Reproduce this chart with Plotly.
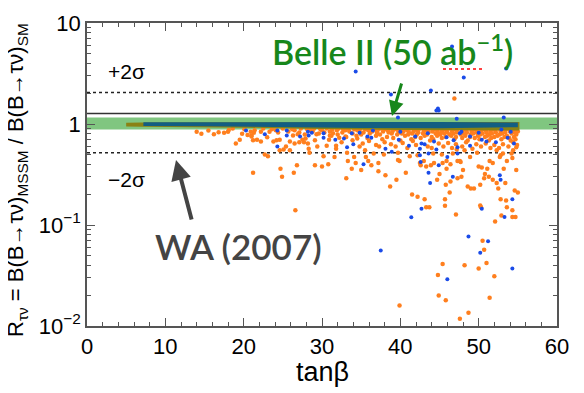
import plotly.graph_objects as go

# tanβ scan: limits and reference lines
wa_central = 1.27
wa_plus2 = 2.05
wa_minus2 = 0.52
belle_lo = 0.88
belle_hi = 1.16
x_span = [0, 60]

# dense band of points near R = 1
olive_x = [5.0, 7.0, 20.0, 30.0, 40.0, 50.0, 55.2]
olive_hi = [1.03, 1.035, 1.04, 1.045, 1.045, 1.045, 1.045]
olive_lo = [0.945, 0.94, 0.92, 0.89, 0.87, 0.86, 0.86]
teal_x = [7.2, 15.0, 25.0, 35.0, 45.0, 50.0, 55.0]
teal_hi = [1.04, 1.045, 1.045, 1.045, 1.045, 1.04, 1.035]
teal_lo = [0.955, 0.95, 0.94, 0.915, 0.91, 0.92, 0.93]

# dense orange points just below the band, one list of tanβ values per R level
strip_levels = [0.905, 0.885, 0.865, 0.845, 0.825, 0.805, 0.785, 0.765, 0.745, 0.725, 0.705, 0.685]
strip_xs = [
    [18.6, 22.5, 25.0, 27.3, 29.0, 30.6, 32.1, 33.4, 34.9, 36.2, 37.5, 38.7, 40.1, 41.3,
     42.6, 43.8, 45.0, 46.3, 47.5, 48.8, 50.0, 51.2, 52.5, 53.7, 54.9],
    [20.1, 23.6, 26.2, 28.1, 29.8, 31.3, 32.7, 34.1, 35.5, 36.8, 38.0, 39.3, 40.6, 41.9,
     43.1, 44.3, 45.6, 46.8, 48.1, 49.3, 50.5, 51.8, 53.0, 54.3],
    [21.4, 24.1, 26.5, 28.5, 30.0, 31.9, 33.0, 34.5, 35.9, 37.1, 38.4, 39.7, 40.9, 42.2,
     43.5, 44.7, 45.9, 47.2, 48.4, 49.7, 50.9, 52.1, 53.4, 54.7],
    [25.7, 28.8, 31.0, 33.5, 34.8, 36.4, 37.8, 39.0, 40.4, 41.7, 43.0, 44.1, 45.3, 46.6,
     47.9, 49.1, 50.3, 51.5, 52.8, 54.0, 55.0],
    [24.4, 27.1, 30.3, 32.6, 35.3, 37.0, 38.5, 39.8, 41.1, 42.3, 43.6, 44.8, 46.0, 47.2,
     48.5, 49.7, 51.0, 52.2, 53.4, 54.6],
    [29.6, 33.9, 36.1, 38.9, 40.2, 41.5, 42.9, 44.5, 45.6, 46.8, 48.0, 49.3, 50.5, 51.7,
     53.0, 54.2],
    [27.8, 32.0, 35.0, 37.4, 39.6, 41.0, 42.1, 43.4, 45.1, 46.3, 47.7, 49.0, 50.2, 51.4,
     52.7, 54.8],
    [31.2, 34.4, 36.9, 40.6, 43.1, 44.7, 46.5, 48.3, 49.9, 51.1, 52.4, 53.6],
    [33.1, 38.3, 41.9, 44.0, 45.8, 47.1, 48.9, 50.8, 52.0, 53.3, 54.5],
    [35.8, 39.1, 42.6, 45.3, 47.9, 49.5, 51.6, 53.9],
    [37.7, 41.4, 44.2, 46.9, 50.1, 52.9, 54.7],
    [40.0, 43.8, 48.6, 51.3, 54.1],
]

orange_x = [
    14.0, 14.6, 16.2, 17.5, 18.0, 18.1, 19.0, 19.5, 20.9, 21.0, 21.3, 21.7, 22.2, 22.2,
    23.3, 23.8, 24.2, 24.6, 22.7, 23.1, 21.2, 24.7, 24.9, 25.1, 25.9, 25.9, 26.5, 26.8,
    26.4, 26.6, 27.7, 28.3, 28.4, 29.1, 29.1, 30.0, 30.8, 30.2, 30.6, 31.6, 31.8, 26.3,
    26.9, 29.3, 31.0, 31.4, 33.1, 33.3, 31.8, 33.2, 34.1, 34.3, 34.8, 35.5, 35.9, 36.6,
    37.2, 37.9, 37.3, 39.9, 39.7, 41.2, 42.2, 42.5, 43.0, 44.2, 45.3, 46.4, 45.9, 47.3,
    33.8, 35.0, 35.6, 36.3, 37.2, 38.1, 38.7, 39.5, 39.7, 40.7, 41.5, 42.2, 43.1, 43.3,
    43.7, 42.6, 43.3, 43.9, 44.3, 44.7, 45.0, 45.4, 45.7, 45.8, 45.9, 46.4, 46.3, 47.1,
    47.3, 47.8, 48.0, 47.7, 48.6, 49.0, 49.4, 50.2, 50.0, 50.4, 50.7, 50.8, 51.1, 51.3,
    51.8, 52.3, 52.5, 52.8, 53.5, 53.6, 53.2, 53.4, 54.3, 54.7, 54.3, 54.6, 55.0, 54.8,
    54.3, 52.8, 52.1, 52.9, 50.2, 50.3, 45.7, 45.4, 44.8, 44.9, 45.8, 48.2, 50.5, 50.7,
    51.0, 50.0, 52.0, 51.4, 39.9, 47.6, 48.7, 46.9,
    46.7, 47.6, 48.9, 51.4, 51.8, 52.7, 53.6, 54.2, 54.8, 54.4, 52.3, 53.1, 49.8, 48.2,
    47.2, 21.0, 21.2, 24.6, 25.4, 27.1, 27.5, 28.2, 29.4,
    32.5, 33.9, 35.2, 36.0, 36.9, 38.0, 38.8, 39.4, 40.3, 40.9, 41.6, 42.0, 43.5, 44.0,
    44.9, 45.5, 46.1, 46.6, 47.1, 47.9, 48.4, 49.2, 49.7, 50.3, 50.9, 51.5, 52.0, 52.6,
    53.1, 53.8, 54.4, 54.9, 33.0, 34.5, 15.5, 16.8, 19.8, 20.5, 23.0, 27.9, 30.9, 32.2,
]
orange_y = [
    0.84, 0.80, 0.79, 0.82, 0.84, 0.87, 0.64, 0.70, 0.84, 0.77, 0.82, 0.70, 0.67, 0.84,
    0.84, 0.67, 0.69, 0.55, 0.50, 0.48, 0.33, 0.36, 0.30, 0.56, 0.55, 0.67, 0.64, 0.39,
    0.33, 0.14, 0.66, 0.57, 0.52, 0.69, 0.39, 0.38, 0.40, 0.48, 0.61, 0.47, 0.57, 0.77,
    0.79, 0.79, 0.77, 0.81, 0.29, 0.43, 0.61, 0.52, 0.47, 0.41, 0.60, 0.55, 0.43, 0.51,
    0.41, 0.50, 0.60, 0.43, 0.52, 0.48, 0.49, 0.41, 0.43, 0.51, 0.50, 0.40, 0.43, 0.43,
    0.36, 0.35, 0.47, 0.39, 0.34, 0.31, 0.24, 0.28, 0.44, 0.33, 0.20, 0.19, 0.18, 0.15,
    0.15, 0.39, 0.38, 0.39, 0.41, 0.28, 0.32, 0.41, 0.18, 0.25, 0.36, 0.27, 0.21, 0.127,
    0.29, 0.30, 0.35, 0.42, 0.24, 0.23, 0.23, 0.25, 0.38, 0.37, 0.29, 0.32, 0.36, 0.30,
    0.28, 0.26, 0.23, 0.18, 0.175, 0.15, 0.36, 0.26, 0.14, 0.12, 0.12, 0.22, 0.21, 0.35,
    0.46, 0.49, 0.108, 0.124, 0.156, 0.15, 0.155, 0.041, 0.032, 0.020, 0.018, 0.040, 0.070, 0.057,
    0.042, 0.037, 0.031, 0.019, 0.016, 0.0118, 0.0135, 1.79,
    0.51, 0.43, 0.47, 0.43, 0.41, 0.47, 0.43, 0.51, 0.59, 0.55, 0.55, 0.51, 0.52, 0.55,
    0.56, 0.75, 0.69, 0.70, 0.60, 0.66, 0.70, 0.64, 0.60,
    0.66, 0.69, 0.64, 0.68, 0.62, 0.66, 0.63, 0.60, 0.65, 0.58, 0.68, 0.62, 0.60, 0.58,
    0.64, 0.60, 0.65, 0.58, 0.63, 0.60, 0.66, 0.57, 0.63, 0.60, 0.64, 0.58, 0.62, 0.58,
    0.63, 0.60, 0.66, 0.62, 0.75, 0.72, 0.86, 0.83, 0.80, 0.78, 0.74, 0.72, 0.70, 0.73,
]

blue_x = [
    34.3, 46.6, 45.5, 48.1, 53.5, 43.9, 38.8, 44.8, 44.9, 44.6, 39.7, 47.2, 53.2,
    20.3, 22.7, 24.3, 25.5, 25.5, 27.2, 28.2, 28.3, 28.7, 30.2, 30.2, 31.7, 24.3, 32.8,
    33.2, 33.8, 34.8, 34.0, 35.3, 35.8, 36.3, 36.5, 38.1, 38.9, 39.8, 40.0, 41.1, 41.9,
    42.5, 42.7, 43.1, 43.6, 43.5, 44.3, 44.6, 44.9, 45.9, 46.0, 46.8, 47.3, 47.3, 47.6,
    47.8, 48.9, 48.9, 50.0, 50.4, 51.0, 52.2, 52.9, 53.7, 54.1, 54.5, 42.5, 42.6, 43.6,
    43.8, 46.7, 52.7, 52.8, 54.3, 42.7, 50.4, 53.3, 41.4, 48.7, 51.2, 50.2, 37.5, 54.3,
    46.0,
]
blue_y = [
    3.31, 5.85, 4.06, 2.89, 3.54, 2.15, 1.96, 1.42, 1.36, 1.36, 1.16, 1.13, 1.16,
    0.86, 0.79, 0.86, 0.86, 0.77, 0.75, 0.84, 0.77, 0.82, 0.81, 0.73, 0.70, 0.60, 0.72,
    0.59, 0.81, 0.82, 0.63, 0.40, 0.75, 0.73, 0.86, 0.57, 0.53, 0.70, 0.84, 0.61, 0.75,
    0.57, 0.64, 0.63, 0.51, 0.81, 0.67, 0.56, 0.39, 0.74, 0.47, 0.69, 0.59, 0.51, 0.81,
    0.84, 0.75, 0.61, 0.82, 0.70, 0.67, 0.66, 0.88, 0.73, 0.84, 0.64, 0.49, 0.42, 0.33,
    0.26, 0.30, 0.31, 0.28, 0.18, 0.145, 0.145, 0.12, 0.119, 0.077, 0.069, 0.053, 0.056, 0.037,
    0.029,
]

ORANGE = "#ff7f1e"
BLUE = "#1a4be8"
OLIVE = "#8a8214"
TEAL = "#125e82"
GREEN_BAND = "#80c680"
GREEN_TEXT = "#17871b"

fig = go.Figure()


def band(xs, lo, hi, color):
    fig.add_trace(go.Scatter(
        x=list(xs) + list(xs)[::-1], y=list(hi) + list(lo)[::-1],
        fill="toself", fillcolor=color, mode="lines", line=dict(width=0),
        hoverinfo="skip", showlegend=False,
    ))


def hline(val, dash, color="#222", width=1.5):
    fig.add_trace(go.Scatter(
        x=x_span, y=[val, val], mode="lines",
        line=dict(color=color, width=width, dash=dash),
        hoverinfo="skip", showlegend=False,
    ))


# Belle II expected band and WA lines
band(x_span, [belle_lo, belle_lo], [belle_hi, belle_hi], GREEN_BAND)
hline(wa_central, "solid", "#333", 1.5)
hline(wa_plus2, "3px,3px")
hline(wa_minus2, "3px,3px")

# scan points
sx = [x for xs in strip_xs for x in xs]
sy = [lvl for lvl, xs in zip(strip_levels, strip_xs) for _ in xs]
fig.add_trace(go.Scatter(x=sx + orange_x, y=sy + orange_y, mode="markers",
                         marker=dict(color=ORANGE, size=4.5), showlegend=False))
band(olive_x, olive_lo, olive_hi, OLIVE)
band(teal_x, teal_lo, teal_hi, TEAL)
fig.add_trace(go.Scatter(x=blue_x, y=blue_y, mode="markers",
                         marker=dict(color=BLUE, size=4), showlegend=False))

axis_col = "#555"
tick_font = dict(family="Liberation Sans, Arial, sans-serif", size=22, color="black")

fig.update_xaxes(
    range=[0, 60], dtick=10, tick0=0, automargin=False,
    showline=True, linecolor=axis_col, linewidth=1.5, mirror="ticks",
    ticks="inside", ticklen=8, tickcolor=axis_col, tickwidth=1.2,
    minor=dict(dtick=2, ticks="inside", ticklen=4, tickcolor=axis_col, tickwidth=1),
    showgrid=False, zeroline=False, tickfont=tick_font, ticklabelstandoff=0,
)
minor_vals = [m * 10 ** e for e in (-2, -1, 0) for m in range(2, 10)]
fig.update_yaxes(
    type="log", range=[-2, 1], automargin=False,
    tickvals=[0.01, 0.1, 1, 10],
    ticktext=["10<sup>−2</sup>", "10<sup>−1</sup>", "1", "10"],
    showline=True, linecolor=axis_col, linewidth=1.5, mirror="ticks",
    ticks="inside", ticklen=8, tickcolor=axis_col, tickwidth=1.2,
    minor=dict(tickvals=minor_vals, ticks="inside", ticklen=4, tickcolor=axis_col, tickwidth=1),
    showgrid=False, zeroline=False, tickfont=tick_font,
)

ann_font = dict(family="Liberation Sans, Arial", size=21, color="black")
fig.add_annotation(text="+2σ", xref="paper", yref="paper", x=(126 - 87) / 470,
                   y=(326 - 71) / 303, xanchor="center", yanchor="middle",
                   showarrow=False, font=ann_font)
fig.add_annotation(text="−2σ", xref="paper", yref="paper", x=(126 - 87) / 470,
                   y=(326 - 180) / 303, xanchor="center", yanchor="middle",
                   showarrow=False, font=ann_font)
fig.add_annotation(text="Belle II (50 ab<sup>−1</sup>)", xref="paper", yref="paper",
                   x=(392 - 87) / 470, y=(326 - 50) / 303, xanchor="center", yanchor="middle",
                   showarrow=False,
                   font=dict(family="Lato, sans-serif", size=34, color=GREEN_TEXT, weight=600))
fig.add_annotation(text="WA (2007)", xref="paper", yref="paper",
                   x=(238 - 87) / 470, y=(326 - 246) / 303, xanchor="center", yanchor="middle",
                   showarrow=False,
                   font=dict(family="Lato, sans-serif", size=35, color="#444", weight=600))
# arrows
fig.add_annotation(text="", xref="paper", yref="paper", x=(176 - 87) / 470, y=(326 - 160) / 303,
                   ax=16, ay=61, showarrow=True, arrowhead=2, arrowsize=1.0,
                   arrowwidth=4, arrowcolor="#444")
fig.add_annotation(text="", xref="paper", yref="paper", x=(392 - 87) / 470, y=(326 - 116) / 303,
                   ax=10, ay=-34, showarrow=True, arrowhead=2, arrowsize=1.0,
                   arrowwidth=3, arrowcolor=GREEN_TEXT)
# axis titles
fig.add_annotation(
    text="R<sub>τν</sub> = B(B→τν)<sub>MSSM</sub> / B(B→τν)<sub>SM</sub>",
    xref="paper", yref="paper", x=(17 - 87) / 470, y=(326 - 180) / 303,
    xanchor="center", yanchor="middle", textangle=-90, showarrow=False,
    font=dict(family="Liberation Sans, Arial", size=22, color="black"),
)
fig.add_annotation(
    text="tanβ", xref="paper", yref="paper", x=0.5, y=(326 - 372) / 303,
    xanchor="center", yanchor="middle", showarrow=False,
    font=dict(family="Liberation Sans, Arial", size=27, color="black"),
)
# red dashed underline under "ab"
fig.add_shape(type="line", xref="paper", yref="paper",
              x0=(443 - 87) / 470, x1=(484 - 87) / 470,
              y0=(326 - 69) / 303, y1=(326 - 69) / 303,
              line=dict(color="#ff4040", width=2, dash="dot"))

fig.update_layout(
    width=584, height=393,
    margin=dict(l=79, r=35, t=15, b=75, autoexpand=False),
    paper_bgcolor="white", plot_bgcolor="white",
    showlegend=False,
)

fig.write_html("out.html")
